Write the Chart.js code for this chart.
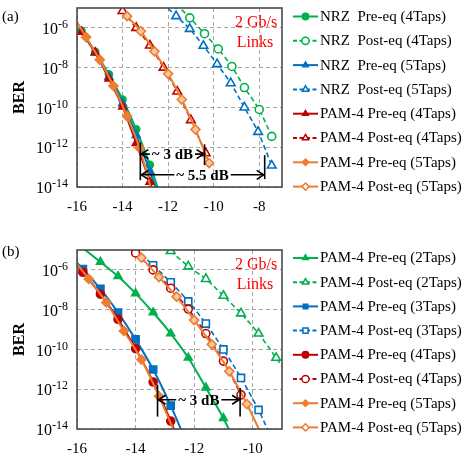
<!DOCTYPE html>
<html><head><meta charset="utf-8">
<script src="https://cdn.jsdelivr.net/npm/chart.js@4"></script>
<style>
html,body{margin:0;padding:0;background:#fff;}
#wrap{position:relative;width:474px;height:454px;overflow:hidden;background:#fff;}
canvas{position:absolute;left:0;}
</style></head><body>
<div id="wrap">
<canvas id="ca" width="474" height="227" style="top:0"></canvas>
<canvas id="cb" width="474" height="227" style="top:227px"></canvas>
</div>
<script>
// ---------------- DATA ----------------
const xTicksA = [-16, -14, -12, -10, -8];
const xTicksB = [-16, -14, -12, -10];
const yTicks = [1e-14, 1e-12, 1e-10, 1e-8, 1e-6];
const yTickExp = ['-14', '-12', '-10', '-8', '-6'];

// Panel (a)
const labelsA = ['NRZ  Pre-eq (4Taps)', 'NRZ  Post-eq (4Taps)', 'NRZ  Pre-eq (5Taps)', 'NRZ  Post-eq (5Taps)',
  'PAM-4 Pre-eq (4Taps)', 'PAM-4 Post-eq (4Taps)', 'PAM-4 Pre-eq (5Taps)', 'PAM-4 Post-eq (5Taps)'];
const aNrzPre4X  = [-15.8, -15.2, -14.6, -14.0, -13.4, -12.8, -12.2];
const aNrzPre4Y  = [7.1e-7, 6.3e-8, 4.7e-9, 2.5e-10, 7.9e-12, 1.3e-13, 1.3e-15];
const aNrzPost4X = [-11.65, -11.05, -10.4, -9.8, -9.2, -8.65, -8.0, -7.45];
const aNrzPost4Y = [1.6e-5, 3.2e-6, 5.1e-7, 8.7e-8, 1.15e-8, 1.0e-9, 7.9e-11, 3.5e-12];
const aNrzPre5X  = [-15.8, -15.2, -14.6, -14.0, -13.4, -12.8, -12.2];
const aNrzPre5Y  = [6.3e-7, 5.6e-8, 3.5e-9, 1.6e-10, 4.0e-12, 6.3e-14, 6.3e-16];
const aNrzPost5X = [-12.25, -11.65, -11.05, -10.45, -9.85, -9.25, -8.65, -8.05, -7.45];
const aNrzPost5Y = [1.8e-5, 3.9e-6, 8.9e-7, 1.26e-7, 1.5e-8, 1.66e-9, 1.0e-10, 5.9e-12, 1.2e-13];
const aPamPre4X  = [-15.8, -15.2, -14.6, -14.0, -13.4, -12.8, -12.2];
const aPamPre4Y  = [6.3e-7, 5.9e-8, 2.8e-9, 1.1e-10, 1.6e-12, 1.8e-14, 1.6e-16];
const aPamPost4X = [-14.0, -13.4, -12.8, -12.2, -11.6, -11.0, -10.35];
const aPamPost4Y = [7.1e-6, 1.0e-6, 1.3e-7, 1.0e-8, 6.3e-10, 2.3e-11, 5.0e-13];
const aPamPre5X  = [-16.2, -15.6, -15.0, -14.4, -13.8, -13.25, -12.7];
const aPamPre5Y  = [4.7e-6, 3.4e-7, 2.5e-8, 1.2e-9, 3.6e-11, 9.1e-13, 5.0e-15];
const aPamPost5X = [-13.8, -13.2, -12.6, -12.0, -11.4, -10.8, -10.2];
const aPamPost5Y = [3.9e-6, 6.8e-7, 6.6e-8, 4.9e-9, 2.5e-10, 7.8e-12, 1.6e-13];

// Panel (b)
const labelsB = ['PAM-4 Pre-eq (2Taps)', 'PAM-4 Post-eq (2Taps)', 'PAM-4 Pre-eq (3Taps)', 'PAM-4 Post-eq (3Taps)',
  'PAM-4 Pre-eq (4Taps)', 'PAM-4 Post-eq (4Taps)', 'PAM-4 Pre-eq (5Taps)', 'PAM-4 Post-eq (5Taps)'];
const bPre2X  = [-16.4, -15.2, -14.6, -14.0, -13.4, -12.8, -12.2, -11.6, -11.0, -10.4];
const bPre2Y  = [6.3e-5, 2.5e-6, 4.8e-7, 6.6e-8, 7.2e-9, 6.3e-10, 3.8e-11, 1.2e-12, 3.5e-14, 5.0e-16];
const bPost2X = [-12.8, -12.2, -11.6, -11.0, -10.4, -9.8, -9.2, -8.6];
const bPost2Y = [8.9e-6, 1.5e-6, 3.5e-7, 5.0e-8, 6.5e-9, 6.3e-10, 3.8e-11, 2.0e-12];
const bPre3X  = [-16.4, -15.8, -15.2, -14.6, -14.0, -13.4, -12.8, -12.2];
const bPre3Y  = [1.0e-5, 1.1e-6, 1.1e-7, 7.2e-9, 3.2e-10, 9.8e-12, 1.5e-13, 1.3e-15];
const bPost3X = [-14.0, -13.4, -12.8, -12.2, -11.6, -11.0, -10.4, -9.8, -9.2];
const bPost3Y = [1.15e-5, 1.7e-6, 2.4e-7, 2.6e-8, 2.0e-9, 1.0e-10, 3.7e-12, 9.1e-14, 1.0e-15];
const bPre4X  = [-16.4, -15.8, -15.2, -14.6, -14.0, -13.4, -12.8, -12.2];
const bPre4Y  = [7.9e-6, 7.6e-7, 6.0e-8, 3.3e-9, 1.1e-10, 2.3e-12, 2.5e-14, 1.6e-16];
const bPost4X = [-14.0, -13.4, -12.8, -12.2, -11.6, -11.0, -10.4];
const bPost4Y = [7.1e-6, 1.0e-6, 1.2e-7, 1.07e-8, 6.3e-10, 2.6e-11, 5.2e-13];
const bPre5X  = [-16.2, -15.6, -15.0, -14.4, -13.8, -13.2, -12.6];
const bPre5Y  = [4.5e-6, 3.5e-7, 2.3e-8, 8.5e-10, 3.1e-11, 4.4e-13, 4.0e-15];
const bPost5X = [-13.8, -13.2, -12.6, -12.0, -11.4, -10.8, -10.2, -9.6];
const bPost5Y = [4.1e-6, 4.3e-7, 4.5e-8, 3.0e-9, 1.8e-10, 7.9e-12, 1.8e-13, 2.5e-15];

// Annotation values (data units)
const annA = {
  vlines: [[-13.22, 1.7e-12, 2.2e-14], [-10.4, 1.4e-12, 1.26e-13], [-7.76, 4e-13, 2.5e-14]],
  arrows: [[-13.22, -10.4, 4.5e-13, '~ 3 dB'], [-13.22, -7.76, 4.1e-14, '~ 5.5 dB']]
};
const annB = {
  vlines: [[-13.25, 1.7e-12, 4.2e-14], [-10.43, 1.15e-12, 4.2e-14]],
  arrows: [[-13.25, -10.43, 2.95e-13, '~ 3 dB']]
};

// ---------------- STYLES ----------------
const GREEN = '#00B050', BLUE = '#0070C0', RED = '#C00000', ORANGE = '#ED7D31';
const SERIF = "'Liberation Serif','Times New Roman',serif";
const stylesA = [
  {c: GREEN, pt: 'circle', open: false, dash: false, r: 3.5},
  {c: GREEN, pt: 'circle', open: true, dash: true, r: 4},
  {c: BLUE, pt: 'triangle', open: false, dash: false, r: 4.5},
  {c: BLUE, pt: 'triangle', open: true, dash: true, r: 5},
  {c: RED, pt: 'triangle', open: false, dash: false, r: 4.5},
  {c: RED, pt: 'triangle', open: true, dash: true, r: 5},
  {c: ORANGE, pt: 'rectRot', open: false, dash: false, r: 4.5},
  {c: ORANGE, pt: 'rectRot', open: true, dash: false, r: 4.5, fill: '#F8C9A4'}
];
const stylesB = [
  {c: GREEN, pt: 'triangle', open: false, dash: false, r: 4.5},
  {c: GREEN, pt: 'triangle', open: true, dash: true, r: 5},
  {c: BLUE, pt: 'rect', open: false, dash: false, r: 5},
  {c: BLUE, pt: 'rect', open: true, dash: true, r: 5},
  {c: RED, pt: 'circle', open: false, dash: false, r: 4},
  {c: RED, pt: 'circle', open: true, dash: true, r: 4},
  {c: ORANGE, pt: 'rectRot', open: false, dash: false, r: 4.5},
  {c: ORANGE, pt: 'rectRot', open: true, dash: false, r: 4.5, fill: '#F8C9A4'}
];

function drawMarker(ctx, st, x, y, r, fill, stroke, lw) {
  ctx.save();
  ctx.beginPath();
  if (st === 'circle') ctx.arc(x, y, r, 0, Math.PI * 2);
  else if (st === 'triangle') {
    for (let k = 0; k < 3; k++) {
      const a = -Math.PI / 2 + k * 2 * Math.PI / 3;
      const px = x + Math.cos(a) * r, py = y + Math.sin(a) * r;
      k ? ctx.lineTo(px, py) : ctx.moveTo(px, py);
    }
    ctx.closePath();
  } else if (st === 'rect') {
    const s = r * Math.SQRT1_2; ctx.rect(x - s, y - s, 2 * s, 2 * s);
  } else {
    ctx.moveTo(x, y - r); ctx.lineTo(x + r, y); ctx.lineTo(x, y + r); ctx.lineTo(x - r, y); ctx.closePath();
  }
  ctx.fillStyle = fill; ctx.fill();
  ctx.lineWidth = lw; ctx.strokeStyle = stroke; ctx.setLineDash([]); ctx.stroke();
  ctx.restore();
}

function arrowHead(ctx, x, y, dir) {
  ctx.beginPath();
  ctx.moveTo(x - dir * 7, y - 4.5); ctx.lineTo(x, y); ctx.lineTo(x - dir * 7, y + 4.5);
  ctx.stroke();
}

function makeChart(id, cfg) {
  const datasets = cfg.series.map((s, i) => {
    const st = cfg.styles[i];
    return {
      label: cfg.labels[i],
      data: s[0].map((v, k) => ({x: v, y: s[1][k]})),
      borderColor: st.c, backgroundColor: st.c,
      borderWidth: st.dash ? 1.6 : 2,
      borderDash: st.dash ? [5, 3] : [],
      pointStyle: st.pt, pointRadius: st.r, pointHoverRadius: st.r,
      pointBorderWidth: 1.6,
      pointBackgroundColor: st.open ? (st.fill || '#ffffff') : st.c,
      pointBorderColor: st.c,
      tension: 0.25,
      order: cfg.series.length - i
    };
  });
  const deco = {
    id: 'deco',
    afterDatasetsDraw(chart) {
      const ctx = chart.ctx, ca = chart.chartArea, xs = chart.scales.x, ys = chart.scales.y;
      ctx.save();
      // frame
      ctx.strokeStyle = '#4a4a4a'; ctx.lineWidth = 1.6; ctx.setLineDash([]);
      ctx.strokeRect(ca.left, ca.top, ca.right - ca.left, ca.bottom - ca.top);
      // annotations
      ctx.strokeStyle = '#000'; ctx.fillStyle = '#000'; ctx.lineWidth = 1.6;
      cfg.ann.vlines.forEach(v => {
        const px = xs.getPixelForValue(v[0]);
        ctx.beginPath(); ctx.moveTo(px, ys.getPixelForValue(v[1])); ctx.lineTo(px, ys.getPixelForValue(v[2])); ctx.stroke();
      });
      ctx.font = 'bold 15px ' + SERIF; ctx.textBaseline = 'middle'; ctx.textAlign = 'center';
      cfg.ann.arrows.forEach(a => {
        const x1 = xs.getPixelForValue(a[0]) + 1, x2 = xs.getPixelForValue(a[1]) - 1, py = ys.getPixelForValue(a[2]);
        const w = ctx.measureText(a[3]).width;
        const tx = (x1 + x2) / 2;
        const tl = tx - w / 2 - 2, tr = tx + w / 2 + 2;
        ctx.beginPath(); ctx.moveTo(x1, py); ctx.lineTo(tl, py); ctx.moveTo(tr, py); ctx.lineTo(x2, py); ctx.stroke();
        arrowHead(ctx, x1, py, -1); arrowHead(ctx, x2, py, 1);
        ctx.fillText(a[3], tx, py + 1);
      });
      ctx.restore();
    },
    afterDraw(chart) {
      const ctx = chart.ctx, ca = chart.chartArea, xs = chart.scales.x, ys = chart.scales.y;
      ctx.save();
      ctx.fillStyle = '#000';
      // x tick labels
      ctx.font = '15px ' + SERIF; ctx.textAlign = 'center'; ctx.textBaseline = 'middle';
      cfg.xTicks.forEach(v => ctx.fillText(String(v), xs.getPixelForValue(v), ca.bottom + 20));
      // y tick labels 10^exp
      yTicks.forEach((v, i) => {
        const py = ys.getPixelForValue(v);
        ctx.font = '12px ' + SERIF;
        const ew = ctx.measureText(yTickExp[i]).width;
        const right = ca.left - 9;
        ctx.textAlign = 'left'; ctx.textBaseline = 'middle';
        ctx.fillText(yTickExp[i], right - ew, py - 3);
        ctx.font = '16px ' + SERIF; ctx.textAlign = 'right';
        ctx.fillText('10', right - ew, py + 2);
      });
      // axis title
      ctx.save();
      ctx.translate(20, (ca.top + ca.bottom) / 2); ctx.rotate(-Math.PI / 2);
      ctx.font = 'bold 16px ' + SERIF; ctx.textAlign = 'center'; ctx.textBaseline = 'middle';
      ctx.fillText('BER', 0, 0);
      ctx.restore();
      // panel label
      ctx.font = '15px ' + SERIF; ctx.textAlign = 'left'; ctx.textBaseline = 'middle';
      ctx.fillText(cfg.panel, 2, cfg.panelY);
      // red text
      ctx.fillStyle = '#FF0000'; ctx.font = '16px ' + SERIF; ctx.textAlign = 'center';
      ctx.fillText('2 Gb/s', 256, ca.top + 14.5);
      ctx.fillText('Links', 255, ca.top + 35);
      // legend
      chart.data.datasets.forEach((ds, i) => {
        const st = cfg.styles[i];
        const ly = cfg.legY + i * cfg.legStep;
        ctx.save();
        ctx.strokeStyle = st.c; ctx.lineWidth = 2;
        ctx.setLineDash(st.dash ? [4, 2.5] : []);
        ctx.beginPath(); ctx.moveTo(293, ly); ctx.lineTo(318, ly); ctx.stroke();
        ctx.restore();
        drawMarker(ctx, st.pt, 305.5, ly, st.open ? 3.6 : 3.2, st.open ? '#fff' : st.c, st.c, 1.5);
        ctx.fillStyle = '#000'; ctx.font = '15px ' + SERIF; ctx.textAlign = 'left'; ctx.textBaseline = 'middle';
        ctx.fillText(ds.label, 320, ly + 0.5);
      });
      ctx.restore();
    }
  };
  const gridOpts = {color: '#A6A6A6', lineWidth: 1, drawTicks: false};
  return new Chart(document.getElementById(id), {
    type: 'line',
    data: {datasets},
    options: {
      responsive: false, animation: false, devicePixelRatio: 1,
      layout: {padding: {left: 0, right: 192, top: cfg.top, bottom: 0}},
      plugins: {legend: {display: false}, tooltip: {enabled: false}},
      scales: {
        x: {
          type: 'linear', min: -16, max: cfg.xMax,
          afterBuildTicks: s => { s.ticks = cfg.xTicks.map(v => ({value: v})); },
          afterFit: s => { s.height = cfg.bottomH; },
          ticks: {display: false},
          grid: gridOpts,
          border: {display: false, dash: [4, 3]}
        },
        y: {
          type: 'logarithmic', min: 1e-14, max: 1e-5,
          afterBuildTicks: s => { s.ticks = yTicks.map(v => ({value: v})); },
          afterFit: s => { s.width = 77; },
          ticks: {display: false},
          grid: gridOpts,
          border: {display: false, dash: [4, 3]}
        }
      }
    },
    plugins: [deco]
  });
}

makeChart('ca', {
  labels: labelsA, styles: stylesA,
  series: [[aNrzPre4X, aNrzPre4Y], [aNrzPost4X, aNrzPost4Y], [aNrzPre5X, aNrzPre5Y], [aNrzPost5X, aNrzPost5Y],
           [aPamPre4X, aPamPre4Y], [aPamPost4X, aPamPost4Y], [aPamPre5X, aPamPre5Y], [aPamPost5X, aPamPost5Y]],
  xTicks: xTicksA, xMax: -7, top: 8, bottomH: 40,
  panel: '(a)', panelY: 17, legY: 16.5, legStep: 24.3, ann: annA
});
makeChart('cb', {
  labels: labelsB, styles: stylesB,
  series: [[bPre2X, bPre2Y], [bPost2X, bPost2Y], [bPre3X, bPre3Y], [bPost3X, bPost3Y],
           [bPre4X, bPre4Y], [bPost4X, bPost4Y], [bPre5X, bPre5Y], [bPost5X, bPost5Y]],
  xTicks: xTicksB, xMax: -9, top: 23, bottomH: 25,
  panel: '(b)', panelY: 25, legY: 31, legStep: 24.2, ann: annB
});
</script>
</body></html>
